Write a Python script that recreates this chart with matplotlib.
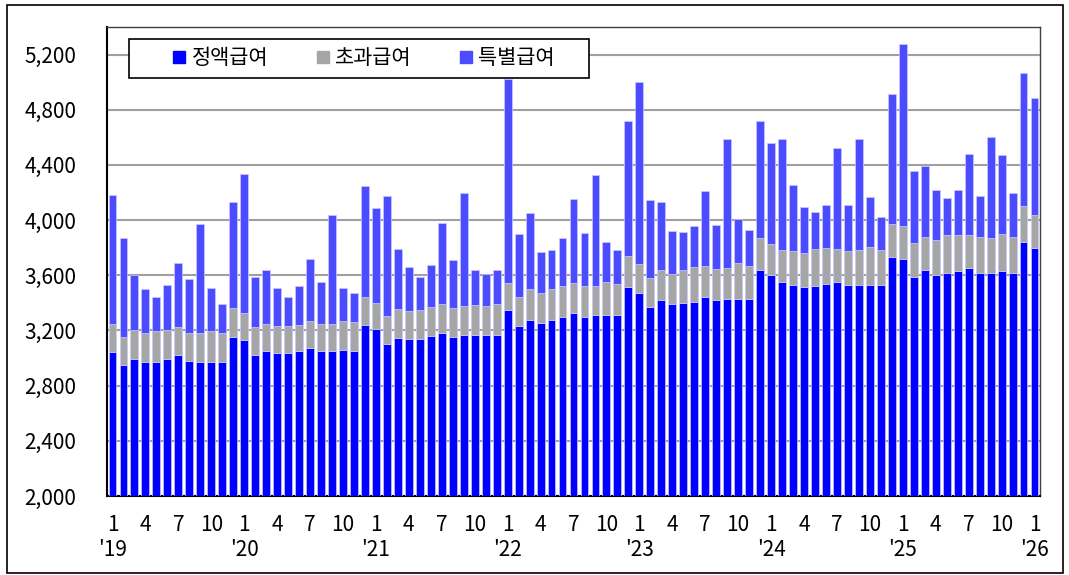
import matplotlib
matplotlib.use("Agg")
import matplotlib.pyplot as plt
from matplotlib.patches import Rectangle
from matplotlib.lines import Line2D
import numpy as np

plt.rcParams['font.family'] = ['Noto Sans CJK KR', 'DejaVu Sans']

# Monthly data Jan 2019 .. Jan 2026
regular = [3045, 2950, 2995, 2975, 2975, 2995, 3025, 2980, 2975, 2975, 2970, 3155,
           3130, 3025, 3050, 3035, 3035, 3050, 3075, 3050, 3050, 3055, 3050, 3240,
           3210, 3100, 3145, 3135, 3140, 3160, 3185, 3150, 3165, 3170, 3170, 3170,
           3350, 3230, 3275, 3255, 3275, 3300, 3330, 3300, 3310, 3310, 3310, 3515,
           3475, 3370, 3420, 3395, 3400, 3410, 3440, 3420, 3430, 3430, 3430, 3635,
           3600, 3550, 3530, 3515, 3525, 3540, 3555, 3530, 3530, 3530, 3530, 3730,
           3720, 3590, 3635, 3605, 3615, 3630, 3650, 3620, 3620, 3630, 3620, 3840,
           3795]
overtime = [205, 200, 205, 205, 220, 210, 200, 200, 205, 220, 210, 205,
            200, 200, 200, 195, 200, 190, 195, 200, 200, 215, 210, 200,
            190, 205, 210, 205, 210, 210, 205, 210, 210, 215, 210, 220,
            195, 210, 225, 215, 225, 220, 215, 220, 215, 240, 230, 225,
            205, 210, 220, 215, 235, 250, 230, 225, 220, 260, 240, 235,
            225, 230, 245, 245, 265, 255, 235, 245, 250, 275, 250, 240,
            240, 245, 245, 250, 275, 265, 245, 255, 250, 270, 260, 260,
            245]
special = [930, 720, 400, 320, 245, 325, 465, 390, 795, 315, 210, 770,
           1005, 365, 390, 280, 210, 280, 450, 305, 785, 240, 210, 805,
           685, 870, 435, 320, 240, 305, 590, 350, 820, 255, 230, 250,
           1475, 460, 550, 300, 285, 350, 605, 390, 805, 290, 240, 975,
           1320, 565, 490, 310, 280, 300, 540, 320, 940, 320, 260, 850,
           735, 810, 480, 335, 270, 315, 730, 335, 810, 360, 245, 945,
           1320, 520, 510, 360, 270, 325, 585, 300, 735, 575, 315, 970,
           845]
series_names = ['정액급여', '초과급여', '특별급여']
colors = ['#0000FF', '#A6A6A6', '#4B4BFF']
month_labels = ['1', '4', '7', '10']
year_labels = ["'19", "'20", "'21", "'22", "'23", "'24", "'25", "'26"]

n = len(regular)
x = np.arange(n)
reg = np.array(regular)
ovt = np.array(overtime)
spc = np.array(special)

fig = plt.figure(figsize=(10.69, 5.75), dpi=100)
AX_L, AX_R, AX_T, AX_B = 107, 1040, 27, 496
ax = fig.add_axes([AX_L/1069, 1 - AX_B/575, (AX_R-AX_L)/1069, (AX_B-AX_T)/575])
AW, AH = AX_R - AX_L, AX_B - AX_T

base = 2000
w = 0.72
ec = '#C8C8FF'
ax.bar(x, reg - base, bottom=base, width=w, color=colors[0], edgecolor=ec, linewidth=0.5, zorder=3)
ax.bar(x, ovt, bottom=reg, width=w, color=colors[1], edgecolor=ec, linewidth=0.5, zorder=3)
ax.bar(x, spc, bottom=reg + ovt, width=w, color=colors[2], edgecolor=ec, linewidth=0.5, zorder=3)

ax.set_ylim(2000, 5400)
ax.set_xlim(-0.5, n - 0.5)
yt = np.arange(2000, 5201, 400)
ax.set_yticks(yt)
ax.set_yticklabels([f'{v:,}' for v in yt], fontsize=15)
ax.yaxis.grid(True, color='#A0A0A0', linewidth=1.5, zorder=0)
ax.set_axisbelow(True)

xt = np.arange(0, n, 3)
ax.set_xticks(xt)
ax.set_xticklabels([month_labels[(i // 3) % 4] for i in xt], fontsize=15)
ax.tick_params(axis='both', length=0)
ax.tick_params(axis='x', pad=13)
ax.tick_params(axis='y', pad=22)

for k, lab in enumerate(year_labels):
    ax.text(k * 12, -0.115, lab, transform=ax.get_xaxis_transform(),
            ha='center', va='center', fontsize=15)

for s in ['left', 'bottom']:
    ax.spines[s].set_color('black')
    ax.spines[s].set_linewidth(1.5)
for s in ['top', 'right']:
    ax.spines[s].set_color('#404040')
    ax.spines[s].set_linewidth(1.0)

# legend box
LB_L, LB_R, LB_T, LB_B = 129, 589, 39, 78
ax.add_patch(Rectangle(((LB_L-AX_L)/AW, (AX_B-LB_B)/AH), (LB_R-LB_L)/AW, (LB_B-LB_T)/AH,
                       transform=ax.transAxes, facecolor='white', edgecolor='black',
                       linewidth=1.2, zorder=6))
handles = [Line2D([], [], marker='s', linestyle='none', markersize=9,
                  markerfacecolor=c, markeredgecolor=c) for c in colors]
leg = ax.legend(handles, series_names, ncol=3, loc='center',
                bbox_to_anchor=((364-AX_L)/AW, (AX_B-58.5)/AH), fontsize=15,
                frameon=False, handlelength=0.6, handletextpad=0.3,
                columnspacing=2.3, borderpad=0.0)
leg.set_zorder(7)

fig.patches.append(Rectangle((7/1069, 2/575), (1063-7)/1069, (570-2)/575,
                             transform=fig.transFigure, fill=False,
                             edgecolor='black', linewidth=1.2))

fig.savefig('out.png', dpi=100)
